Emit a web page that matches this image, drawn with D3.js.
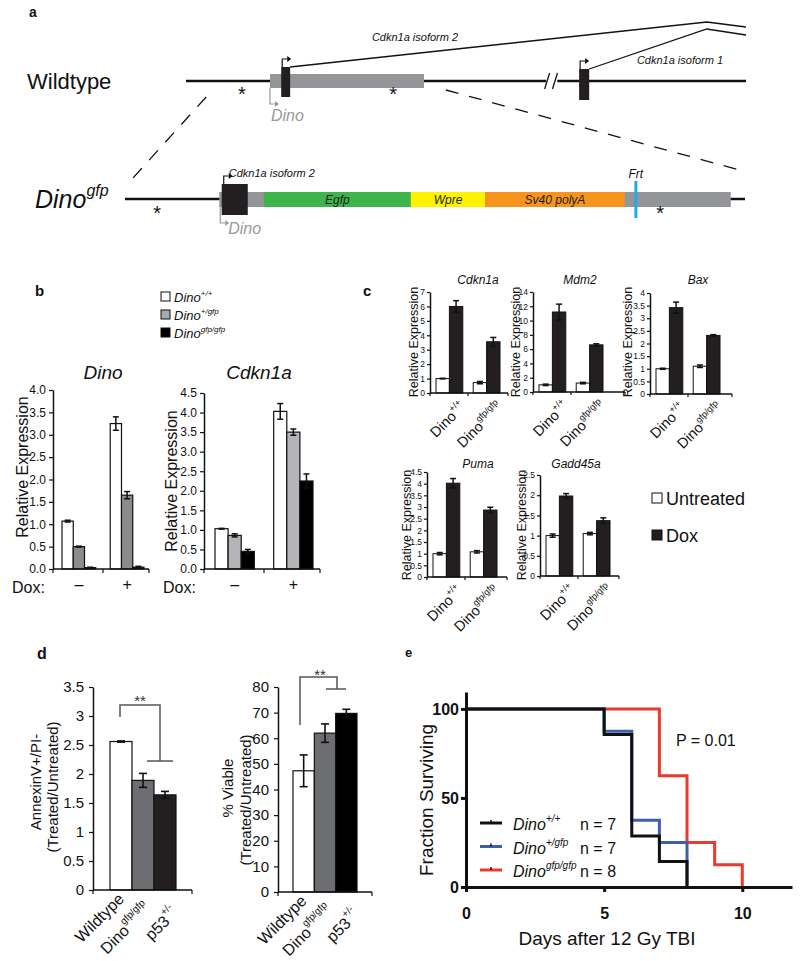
<!DOCTYPE html>
<html>
<head>
<meta charset="utf-8">
<script src="https://cdn.jsdelivr.net/npm/d3@7/dist/d3.min.js"></script>
<style>
html,body{margin:0;padding:0;background:#fff;}
svg{display:block;}
</style>
</head>
<body>
<svg id="fig" width="800" height="961"></svg>
<script>
// ================= DATA =================
// Panel a: locus diagram, positions in diagram units (0-100 along each locus line)
const aWtDinoExon = [15, 42.5];
const aWtIso2Exon = [17, 18.6];
const aWtIso1Exon = [70.2, 72];
const aWtBreak = 65.3;
const aWtStars = [10, 37];
const aSpliceApex = 93;
const aGfpRegion = [15.2, 97.7];
const aGfpIso2Exon = [15.6, 19.8];
const aCassetteNames = ["Egfp", "Wpre", "Sv40 polyA"];
const aCassetteStart = [22.4, 46.1, 58.1];
const aCassetteEnd = [46.1, 58.1, 80.6];
const aFrtPos = 82.4;
const aGfpStars = [5.2, 86.3];

// Panel b
const bGenotypeSup = ["+/+", "+/gfp", "gfp/gfp"];
const bDoxLevels = ["\u2013", "+"];
const bDinoValues = [[1.07, 0.50, 0.03], [3.25, 1.65, 0.04]];
const bDinoErrors = [[0.02, 0.01, 0.01], [0.15, 0.08, 0.02]];
const bCdkn1aValues = [[1.03, 0.86, 0.45], [4.03, 3.50, 2.25]];
const bCdkn1aErrors = [[0.01, 0.04, 0.05], [0.20, 0.08, 0.18]];
const bDinoTicks = [0, 0.5, 1, 1.5, 2, 2.5, 3, 3.5, 4];
const bCdkn1aTicks = [0, 0.5, 1, 1.5, 2, 2.5, 3, 3.5, 4, 4.5];

// Panel c
const cGenes = ["Cdkn1a", "Mdm2", "Bax", "Puma", "Gadd45a"];
const cGenotypeSup = ["+/+", "gfp/gfp"];
const cTreatments = ["Untreated", "Dox"];
const cCdkn1aValues = [[1.0, 6.0], [0.72, 3.55]];
const cCdkn1aErrors = [[0.02, 0.4], [0.08, 0.3]];
const cMdm2Values = [[1.0, 11.2], [1.25, 6.6]];
const cMdm2Errors = [[0.1, 1.1], [0.1, 0.15]];
const cBaxValues = [[1.0, 3.42], [1.1, 2.32]];
const cBaxErrors = [[0.02, 0.22], [0.05, 0.03]];
const cPumaValues = [[1.0, 4.02], [1.08, 2.87]];
const cPumaErrors = [[0.05, 0.2], [0.05, 0.12]];
const cGadd45aValues = [[1.0, 1.98], [1.05, 1.37]];
const cGadd45aErrors = [[0.04, 0.06], [0.03, 0.07]];
const cCdkn1aTicks = [0, 1, 2, 3, 4, 5, 6, 7];
const cMdm2Ticks = [0, 2, 4, 6, 8, 10, 12, 14];
const cBaxTicks = [0, 0.5, 1, 1.5, 2, 2.5, 3, 3.5, 4];
const cPumaTicks = [0, 0.5, 1, 1.5, 2, 2.5, 3, 3.5, 4, 4.5];
const cGadd45aTicks = [0, 0.5, 1, 1.5, 2, 2.5];

// Panel d
const dGenotypes = ["Wildtype", "Dino", "p53"];
const dGenotypeSup = ["", "gfp/gfp", "+/-"];
const dAnnexinValues = [2.56, 1.89, 1.64];
const dAnnexinErrors = [0.01, 0.12, 0.06];
const dViableValues = [47.3, 62.0, 69.7];
const dViableErrors = [6.2, 3.6, 1.6];
const dAnnexinTicks = [0, 0.5, 1, 1.5, 2, 2.5, 3, 3.5];
const dViableTicks = [0, 10, 20, 30, 40, 50, 60, 70, 80];

// Panel e
const eGroupSup = ["+/+", "+/gfp", "gfp/gfp"];
const eGroupN = [7, 7, 8];
const eDays = [[0, 5, 6, 7, 8], [0, 5, 6, 7, 8], [0, 7, 8, 9, 10]];
const eSurvival = [[100, 85.7, 28.6, 14.3, 0], [100, 87.5, 37.5, 25, 0], [100, 62.5, 25, 12.5, 0]];
const eXTicks = [0, 5, 10];
const eYTicks = [0, 50, 100];

// ================= HELPERS =================
const FONT = '"Liberation Sans", Arial, Helvetica, sans-serif';
const svg = d3.select("#fig").attr("font-family", FONT);

function txt(g, x, y, s, size, o = {}) {
  const t = g.append("text").attr("x", x).attr("y", y).attr("font-size", size).text(s);
  if (o.anchor) t.attr("text-anchor", o.anchor);
  if (o.italic) t.attr("font-style", "italic");
  if (o.bold) t.attr("font-weight", "bold");
  t.attr("fill", o.fill || "#111");
  if (o.rotate != null) t.attr("transform", `rotate(${o.rotate},${x},${y})`);
  return t;
}
function supTxt(g, x, y, base, sup, size, supSize, o = {}) {
  const t = g.append("text").attr("x", x).attr("y", y).attr("font-size", size).attr("fill", o.fill || "#111");
  if (o.anchor) t.attr("text-anchor", o.anchor);
  if (o.rotate != null) t.attr("transform", `rotate(${o.rotate},${x},${y})`);
  const b = t.append("tspan").text(base);
  if (o.italic) b.attr("font-style", "italic");
  if (sup) {
    const s = t.append("tspan").attr("font-size", supSize).attr("dy", -(o.supRaise || size * 0.55)).text(sup);
    if (o.italic) s.attr("font-style", "italic");
  }
  return t;
}

// grouped bar chart: values[group][series]
function groupedBars(g, L, values, errors, colors, ticks, fmt) {
  const y = d3.scaleLinear().domain([0, L.yMax]).range([L.y0, L.y1]);
  const xg = d3.scaleBand().domain(d3.range(values.length)).range([L.barX0, L.barX1]).paddingInner(L.pad);
  const xs = d3.scaleBand().domain(d3.range(values[0].length)).range([0, xg.bandwidth()]);
  const flat = [];
  values.forEach((row, gi) => row.forEach((v, si) => flat.push({ gi, si, v, e: errors[gi][si] })));
  g.selectAll(null).data(flat).join("rect")
    .attr("x", d => xg(d.gi) + xs(d.si))
    .attr("y", d => y(d.v))
    .attr("width", xs.bandwidth())
    .attr("height", d => y(0) - y(d.v))
    .attr("fill", d => colors[d.si])
    .attr("stroke", "#111").attr("stroke-width", L.barStroke || 1.2);
  const eb = g.selectAll(null).data(flat.filter(d => d.e > 0)).join("g").attr("stroke", "#111").attr("stroke-width", 1.5);
  const cx = d => xg(d.gi) + xs(d.si) + xs.bandwidth() / 2;
  eb.append("line").attr("x1", cx).attr("x2", cx).attr("y1", d => y(d.v - d.e)).attr("y2", d => y(d.v + d.e));
  [1, -1].forEach(sg => eb.append("line")
    .attr("x1", d => cx(d) - L.cap).attr("x2", d => cx(d) + L.cap)
    .attr("y1", d => y(d.v + sg * d.e)).attr("y2", d => y(d.v + sg * d.e)));
  const ax = g.append("g").attr("transform", `translate(${L.axisX},0)`)
    .call(d3.axisLeft(y).tickValues(ticks).tickFormat(fmt).tickSize(L.tickSize).tickSizeOuter(0).tickPadding(L.tickPad || 3));
  ax.select(".domain").attr("stroke", "#111").attr("stroke-width", 1.5);
  ax.selectAll(".tick line").attr("stroke", "#111").attr("stroke-width", 1.2);
  ax.selectAll(".tick text").attr("font-size", L.tickFont).attr("font-family", FONT).attr("fill", "#111");
  g.append("line").attr("x1", L.axisX).attr("x2", L.axisEnd).attr("y1", y(0)).attr("y2", y(0)).attr("stroke", "#111").attr("stroke-width", 1.5);
  const bnd = [L.axisX, L.axisEnd];
  for (let i = 1; i < values.length; i++) bnd.push((xg(i - 1) + xg.bandwidth() + xg(i)) / 2);
  g.selectAll(null).data(bnd).join("line").attr("x1", d => d).attr("x2", d => d)
    .attr("y1", y(0)).attr("y2", y(0) + (L.xTick || 3)).attr("stroke", "#111").attr("stroke-width", 1.2);
  return { y, xg, xs };
}

// ================= PANEL A =================
const gA = svg.append("g");
txt(gA, 29, 17, "a", 14, { bold: true });
const wtX = d3.scaleLinear().domain([0, 100]).range([186, 746]);
const gfX = d3.scaleLinear().domain([0, 100]).range([125, 745]);
const wtY = 81, gfY = 199;
txt(gA, 27, 89, "Wildtype", 22);
supTxt(gA, 35, 208, "Dino", "gfp", 25, 16, { italic: true, supRaise: 12 });

gA.append("line").attr("x1", wtX(0)).attr("x2", wtX(aWtBreak - 1)).attr("y1", wtY).attr("y2", wtY).attr("stroke", "#111").attr("stroke-width", 2.5);
gA.append("line").attr("x1", wtX(aWtBreak + 1)).attr("x2", wtX(100)).attr("y1", wtY).attr("y2", wtY).attr("stroke", "#111").attr("stroke-width", 2.5);
[-0.9, 0.5].forEach(o => gA.append("line").attr("x1", wtX(aWtBreak + o) - 2).attr("x2", wtX(aWtBreak + o) + 3).attr("y1", wtY + 8).attr("y2", wtY - 8).attr("stroke", "#111").attr("stroke-width", 1.3));
gA.append("rect").attr("x", wtX(aWtDinoExon[0])).attr("width", wtX(aWtDinoExon[1]) - wtX(aWtDinoExon[0])).attr("y", wtY - 7).attr("height", 14).attr("fill", "#939598");
gA.append("rect").attr("x", wtX(aWtIso2Exon[0])).attr("width", wtX(aWtIso2Exon[1]) - wtX(aWtIso2Exon[0])).attr("y", wtY - 14).attr("height", 30).attr("fill", "#231f20");
gA.append("rect").attr("x", wtX(aWtIso1Exon[0])).attr("width", wtX(aWtIso1Exon[1]) - wtX(aWtIso1Exon[0])).attr("y", wtY - 12).attr("height", 31).attr("fill", "#231f20");
const spl = d3.line();
gA.append("path").attr("d", spl([[wtX(aWtIso2Exon[1]), wtY - 14], [wtX(aSpliceApex), 22], [wtX(100), 27]])).attr("fill", "none").attr("stroke", "#111").attr("stroke-width", 1.3);
gA.append("path").attr("d", spl([[wtX(aWtIso1Exon[1]), wtY - 12], [wtX(aSpliceApex), 29], [wtX(100), 35]])).attr("fill", "none").attr("stroke", "#111").attr("stroke-width", 1.3);
txt(gA, 415, 41, "Cdkn1a isoform 2", 11, { italic: true, anchor: "middle" });
txt(gA, 680, 64, "Cdkn1a isoform 1", 11, { italic: true, anchor: "middle" });
function tss(g, x, y, dir, color) {
  const h = 8 * dir;
  g.append("path").attr("d", `M${x},${y}V${y - h}H${x + 5}`).attr("fill", "none").attr("stroke", color).attr("stroke-width", 1.2);
  g.append("path").attr("d", `M${x + 5},${y - h - 3}L${x + 9},${y - h}L${x + 5},${y - h + 3}Z`).attr("fill", color);
}
tss(gA, wtX(aWtIso2Exon[0]) + 1, wtY - 14, 1, "#111");
tss(gA, wtX(aWtIso1Exon[0]) + 1, wtY - 12, 1, "#111");
tss(gA, wtX(aWtDinoExon[0]), wtY + 7, -2, "#999");
txt(gA, wtX(aWtDinoExon[0]) + 1, 121, "Dino", 16, { italic: true, fill: "#999" });
aWtStars.forEach(s => txt(gA, wtX(s), 101, "*", 20, { anchor: "middle" }));

gA.append("line").attr("x1", gfX(0)).attr("x2", gfX(100)).attr("y1", gfY).attr("y2", gfY).attr("stroke", "#111").attr("stroke-width", 2.5);
gA.append("rect").attr("x", gfX(aGfpRegion[0])).attr("width", gfX(aGfpRegion[1]) - gfX(aGfpRegion[0])).attr("y", gfY - 7).attr("height", 15).attr("fill", "#939598");
const cassColors = ["#3db54a", "#fff200", "#f7941d"];
aCassetteNames.forEach((n, i) => {
  gA.append("rect").attr("x", gfX(aCassetteStart[i])).attr("width", gfX(aCassetteEnd[i]) - gfX(aCassetteStart[i])).attr("y", gfY - 7).attr("height", 15).attr("fill", cassColors[i]);
  txt(gA, (gfX(aCassetteStart[i]) + gfX(aCassetteEnd[i])) / 2, gfY + 5, n, 12, { italic: true, anchor: "middle", fill: "#231f20" });
});
gA.append("rect").attr("x", gfX(aGfpIso2Exon[0])).attr("width", gfX(aGfpIso2Exon[1]) - gfX(aGfpIso2Exon[0])).attr("y", gfY - 15).attr("height", 31).attr("fill", "#231f20");
gA.append("line").attr("x1", gfX(aFrtPos)).attr("x2", gfX(aFrtPos)).attr("y1", gfY - 18).attr("y2", gfY + 19).attr("stroke", "#27aae1").attr("stroke-width", 3);
txt(gA, gfX(aFrtPos), 178, "Frt", 12, { italic: true, anchor: "middle" });
tss(gA, gfX(aGfpIso2Exon[0]) + 2, gfY - 15, 1, "#111");
txt(gA, gfX(aGfpIso2Exon[0]) + 7, 177, "Cdkn1a isoform 2", 11, { italic: true });
tss(gA, gfX(aGfpRegion[0]) + 1, gfY + 8, -2, "#999");
txt(gA, gfX(aGfpRegion[0]) + 9, 234, "Dino", 16, { italic: true, fill: "#999" });
aGfpStars.forEach(s => txt(gA, gfX(s), 220, "*", 20, { anchor: "middle" }));
gA.append("line").attr("x1", wtX(3.6)).attr("y1", 97).attr("x2", gfX(0.7)).attr("y2", 182).attr("stroke", "#111").attr("stroke-width", 1.3).attr("stroke-dasharray", "13,11");
gA.append("line").attr("x1", wtX(46.4)).attr("y1", 90).attr("x2", gfX(100.3)).attr("y2", 172).attr("stroke", "#111").attr("stroke-width", 1.3).attr("stroke-dasharray", "13,11");

// ================= PANEL B =================
const gB = svg.append("g");
txt(gB, 35, 296, "b", 15, { bold: true });
const bLegendFill = ["#ffffff", "#a7a9ac", "#000000"];
bGenotypeSup.forEach((s, i) => {
  gB.append("rect").attr("x", 161).attr("y", 292 + i * 18).attr("width", 9).attr("height", 9).attr("fill", bLegendFill[i]).attr("stroke", "#111").attr("stroke-width", 1);
  supTxt(gB, 174, 302 + i * 18, "Dino", s, 13, 8, { italic: true, supRaise: 6 });
});
const bL1 = { axisX: 53, axisEnd: 149, barX0: 62, barX1: 144, y0: 569, y1: 390, yMax: 4, pad: 0.3, cap: 3, tickSize: 4, tickFont: 12, xTick: 4 };
const bL2 = { axisX: 204, axisEnd: 320, barX0: 215, barX1: 313, y0: 569, y1: 393, yMax: 4.5, pad: 0.33, cap: 3, tickSize: 4, tickFont: 12, xTick: 4 };
const fmt1 = d3.format(".1f");
const r1 = groupedBars(gB, bL1, bDinoValues, bDinoErrors, ["#ffffff", "#8a8c8e", "#000000"], bDinoTicks, fmt1);
const r2 = groupedBars(gB, bL2, bCdkn1aValues, bCdkn1aErrors, ["#ffffff", "#b3b5b8", "#000000"], bCdkn1aTicks, fmt1);
txt(gB, 103, 379, "Dino", 19, { italic: true, anchor: "middle" });
txt(gB, 259, 379, "Cdkn1a", 19, { italic: true, anchor: "middle" });
txt(gB, 28, 467, "Relative Expression", 16, { anchor: "middle", rotate: -90 });
txt(gB, 177, 481, "Relative Expression", 16, { anchor: "middle", rotate: -90 });
[[r1, bL1], [r2, bL2]].forEach(([r, L]) => {
  txt(gB, L.axisX - 41, 593, "Dox:", 16);
  bDoxLevels.forEach((d, i) => txt(gB, r.xg(i) + r.xg.bandwidth() / 2, 590, d, 16, { anchor: "middle" }));
});

// ================= PANEL C =================
const gC = svg.append("g");
txt(gC, 363, 296, "c", 15, { bold: true });
const cFill = ["#ffffff", "#231f20"];
const cLayouts = [
  { axisX: 430, axisEnd: 508, y0: 393, y1: 292, yMax: 7, titleX: 478, titleY: 284, ytX: 418, ytY: 342 },
  { axisX: 533, axisEnd: 625, y0: 392, y1: 292, yMax: 14, titleX: 580, titleY: 284, ytX: 520, ytY: 342 },
  { axisX: 650, axisEnd: 732, y0: 394, y1: 293, yMax: 4, titleX: 698, titleY: 284, ytX: 632, ytY: 342 },
  { axisX: 427, axisEnd: 507, y0: 577, y1: 472, yMax: 4.5, titleX: 478, titleY: 468, ytX: 411, ytY: 525 },
  { axisX: 540, axisEnd: 619, y0: 576, y1: 475, yMax: 2.5, titleX: 576, titleY: 468, ytX: 526, ytY: 525 }
];
const cVals = [cCdkn1aValues, cMdm2Values, cBaxValues, cPumaValues, cGadd45aValues];
const cErrs = [cCdkn1aErrors, cMdm2Errors, cBaxErrors, cPumaErrors, cGadd45aErrors];
const cTicks = [cCdkn1aTicks, cMdm2Ticks, cBaxTicks, cPumaTicks, cGadd45aTicks];
cGenes.forEach((gene, k) => {
  const L0 = cLayouts[k];
  const L = Object.assign({ barX0: L0.axisX + 6, barX1: L0.axisX + 70, pad: 0.28, cap: 3, tickSize: 3, tickFont: 8.5, tickPad: 2, xTick: 3, barStroke: 1 }, L0);
  const r = groupedBars(gC, L, cVals[k], cErrs[k], cFill, cTicks[k], d3.format("~g"));
  txt(gC, L.titleX, L.titleY, gene, 12, { italic: true, anchor: "middle" });
  txt(gC, L.ytX, L.ytY, "Relative Expression", 12.5, { anchor: "middle", rotate: -90 });
  cGenotypeSup.forEach((s, i) => {
    const cx = r.xg(i) + r.xg.bandwidth() / 2 + 17, cy = L.y0 + 15;
    supTxt(gC, cx, cy, "Dino", s, 14.5, 9, { anchor: "end", rotate: -45, supRaise: 7 });
  });
});
cTreatments.forEach((t, i) => {
  gC.append("rect").attr("x", 652).attr("y", 493 + i * 37).attr("width", 10).attr("height", 10).attr("fill", cFill[i]).attr("stroke", "#111").attr("stroke-width", 1);
  txt(gC, 666, 505 + i * 37, t, 18);
});

// ================= PANEL D =================
const gD = svg.append("g");
txt(gD, 37, 659, "d", 16, { bold: true });
const dFill = ["#ffffff", "#6d6e71", "#231f20"];
const dFill2 = ["#ffffff", "#6d6e71", "#000000"];
const dLabelDx = [4, 9, 14], dLabelDy = [10, 20, 24];
function simpleBars(L, vals, errs, fills, ticks) {
  const y = d3.scaleLinear().domain([0, L.yMax]).range([L.y0, L.y1]);
  const x = d3.scaleBand().domain(d3.range(vals.length)).range([L.barX0, L.barX1]).paddingInner(0);
  gD.selectAll(null).data(vals).join("rect")
    .attr("x", (d, i) => x(i)).attr("y", d => y(d)).attr("width", x.bandwidth()).attr("height", d => y(0) - y(d))
    .attr("fill", (d, i) => fills[i]).attr("stroke", "#111").attr("stroke-width", 1.2);
  const eb = gD.selectAll(null).data(vals).join("g").attr("stroke", "#111").attr("stroke-width", 1.6);
  eb.append("line").attr("x1", (d, i) => x(i) + x.bandwidth() / 2).attr("x2", (d, i) => x(i) + x.bandwidth() / 2)
    .attr("y1", (d, i) => y(d - errs[i])).attr("y2", (d, i) => y(d + errs[i]));
  [1, -1].forEach(sg => eb.append("line").attr("x1", (d, i) => x(i) + x.bandwidth() / 2 - 4).attr("x2", (d, i) => x(i) + x.bandwidth() / 2 + 4)
    .attr("y1", (d, i) => y(d + sg * errs[i])).attr("y2", (d, i) => y(d + sg * errs[i])));
  const ax = gD.append("g").attr("transform", `translate(${L.axisX},0)`)
    .call(d3.axisLeft(y).tickValues(ticks).tickFormat(d3.format("~g")).tickSize(4).tickSizeOuter(0).tickPadding(5));
  ax.select(".domain").attr("stroke", "#111").attr("stroke-width", 1.5);
  ax.selectAll(".tick line").attr("stroke", "#111").attr("stroke-width", 1.2);
  ax.selectAll(".tick text").attr("font-size", 15).attr("font-family", FONT).attr("fill", "#111");
  gD.append("line").attr("x1", L.axisX).attr("x2", L.axisEnd).attr("y1", y(0)).attr("y2", y(0)).attr("stroke", "#111").attr("stroke-width", 1.5);
  gD.selectAll(null).data([L.axisX, L.axisEnd]).join("line").attr("x1", d => d).attr("x2", d => d)
    .attr("y1", y(0)).attr("y2", y(0) + 4).attr("stroke", "#111").attr("stroke-width", 1.2);
  dGenotypes.forEach((n, i) => {
    supTxt(gD, x(i) + x.bandwidth() / 2 + dLabelDx[i], y(0) + dLabelDy[i], n, dGenotypeSup[i], 16, 10, { anchor: "end", rotate: -45, supRaise: 9 });
  });
  return { x, y };
}
const dL1 = { axisX: 93, axisEnd: 192, barX0: 110, barX1: 176, y0: 890, y1: 687, yMax: 3.5 };
const dL2 = { axisX: 278, axisEnd: 372, barX0: 293, barX1: 357, y0: 892, y1: 687, yMax: 80 };
simpleBars(dL1, dAnnexinValues, dAnnexinErrors, dFill, dAnnexinTicks);
simpleBars(dL2, dViableValues, dViableErrors, dFill2, dViableTicks);
txt(gD, 41, 782, "AnnexinV+/PI-", 15, { anchor: "middle", rotate: -90 });
txt(gD, 58, 787, "(Treated/Untreated)", 15, { anchor: "middle", rotate: -90 });
txt(gD, 233, 788, "% Viable", 15, { anchor: "middle", rotate: -90 });
txt(gD, 251, 800, "(Treated/Untreated)", 15, { anchor: "middle", rotate: -90 });
const brk = "#555";
gD.append("path").attr("d", "M120,717V705H160V761").attr("fill", "none").attr("stroke", brk).attr("stroke-width", 1.5);
gD.append("line").attr("x1", 147).attr("x2", 173).attr("y1", 761).attr("y2", 761).attr("stroke", brk).attr("stroke-width", 1.5);
txt(gD, 140, 706, "**", 15, { anchor: "middle", fill: "#333" });
gD.append("path").attr("d", "M300,725V677H337V689").attr("fill", "none").attr("stroke", brk).attr("stroke-width", 1.5);
gD.append("line").attr("x1", 326).attr("x2", 346).attr("y1", 689).attr("y2", 689).attr("stroke", brk).attr("stroke-width", 1.5);
txt(gD, 320, 680, "**", 15, { anchor: "middle", fill: "#333" });

// ================= PANEL E =================
const gE = svg.append("g");
txt(gE, 405, 657, "e", 13, { bold: true });
const ex = d3.scaleLinear().domain([0, 11.8]).range([466, 792]);
const ey = d3.scaleLinear().domain([0, 109.5]).range([887, 692]);
const eColors = ["#111111", "#3f5fad", "#ea3a2d"];
const stepLine = d3.line().x(d => ex(d[0])).y(d => ey(d[1])).curve(d3.curveStepAfter);
[2, 1, 0].forEach(k => {
  gE.append("path").attr("d", stepLine(eDays[k].map((d, i) => [d, eSurvival[k][i]])))
    .attr("fill", "none").attr("stroke", eColors[k]).attr("stroke-width", 3);
});
const exA = gE.append("g").attr("transform", `translate(0,${ey(0)})`)
  .call(d3.axisBottom(ex).tickValues(eXTicks).tickSize(5).tickSizeOuter(0).tickPadding(16));
const eyA = gE.append("g").attr("transform", `translate(${ex(0)},0)`)
  .call(d3.axisLeft(ey).tickValues(eYTicks).tickSize(5).tickSizeOuter(0).tickPadding(2));
[exA, eyA].forEach(a => {
  a.select(".domain").attr("stroke", "#111").attr("stroke-width", 3);
  a.selectAll(".tick line").attr("stroke", "#111").attr("stroke-width", 3);
  a.selectAll(".tick text").attr("font-size", 16).attr("font-weight", "bold").attr("font-family", FONT).attr("fill", "#111");
});
txt(gE, 433, 800, "Fraction Surviving", 19, { anchor: "middle", rotate: -90 });
txt(gE, 607, 945, "Days after 12 Gy TBI", 19, { anchor: "middle" });
txt(gE, 676, 746, "P = 0.01", 16);
eGroupSup.forEach((s, i) => {
  const ly = 823 + i * 23.5;
  gE.append("line").attr("x1", 480).attr("x2", 502).attr("y1", ly).attr("y2", ly).attr("stroke", eColors[i]).attr("stroke-width", 3);
  gE.append("line").attr("x1", 491).attr("x2", 491).attr("y1", ly - 3).attr("y2", ly).attr("stroke", "#111").attr("stroke-width", 1.5);
  supTxt(gE, 513, ly + 7, "Dino", s, 16, 10, { italic: true, supRaise: 8 });
  txt(gE, 580, ly + 7, "n = " + eGroupN[i], 16);
});
</script>
</body>
</html>
